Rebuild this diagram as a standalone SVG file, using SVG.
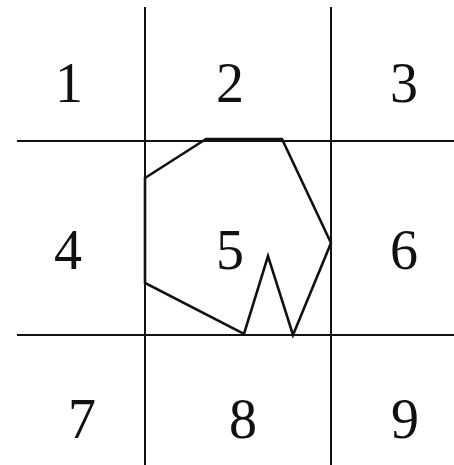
<svg xmlns="http://www.w3.org/2000/svg" width="454" height="465" viewBox="0 0 454 465">
<style>
.g{stroke:#111;stroke-width:2;fill:none}
.p{stroke:#111;stroke-width:2.6;fill:none;stroke-linejoin:miter}
text{font-family:"Liberation Serif",serif;font-size:56px;fill:#111;text-anchor:middle}
</style>
<rect width="454" height="465" fill="#fff"/>
<g id="grid">
<line class="g" x1="145" y1="7" x2="145" y2="465"/>
<line class="g" x1="331" y1="7" x2="331" y2="465"/>
<line class="g" x1="17" y1="141" x2="454" y2="141"/>
<line class="g" x1="17" y1="335" x2="454" y2="335"/>
</g>
<g id="polygon">
<polygon class="p" points="145,178 206,139 282,139 331,243 293,335 268,256 244,334 145,283"/>
</g>
<g id="labels">
<text x="69" y="102">1</text>
<text x="230" y="102">2</text>
<text x="404" y="102">3</text>
<text x="68" y="269">4</text>
<text x="230" y="269">5</text>
<text x="404" y="269">6</text>
<text x="82" y="438">7</text>
<text x="243" y="438">8</text>
<text x="405" y="438">9</text>
</g>
</svg>
